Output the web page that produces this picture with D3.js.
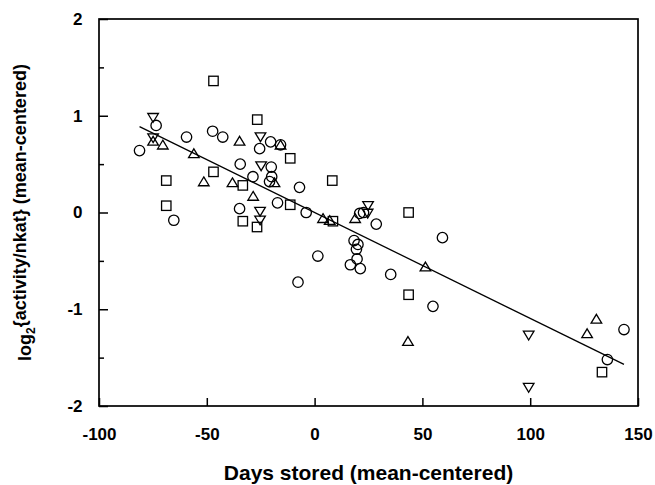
<!DOCTYPE html>
<html>
<head>
<meta charset="utf-8">
<script src="https://cdnjs.cloudflare.com/ajax/libs/d3/7.8.5/d3.min.js"></script>
<style>
    body { margin: 0; background: #fff; }
    text { font-family: 'Liberation Sans', Arial, sans-serif; font-weight: bold; fill: #000; }
</style>
</head>
<body>
<div id="plot"></div>
<script>
let svgWidth = 655;
let svgHeight = 485;

let margin = {
    top: 19,
    right: 17,
    bottom: 79,
    left: 99
};

let chartWidth = svgWidth - margin.left - margin.right;
let chartHeight = svgHeight - margin.top - margin.bottom;

// Points: [days stored, log2 activity], both mean-centered
let circlePoints = [
    [-81.2, 0.64], [-73.5, 0.90], [-65.3, -0.08], [-59.4, 0.78], [-47.3, 0.84],
    [-42.6, 0.78], [-34.5, 0.50], [-28.6, 0.37], [-34.8, 0.04], [-25.5, 0.66],
    [-20.4, 0.73], [-15.8, 0.70], [-20.1, 0.47], [-19.9, 0.37], [-20.9, 0.32],
    [-7.0, 0.26], [-17.2, 0.10], [-3.9, 0.0], [1.5, -0.45], [-7.7, -0.72],
    [20.9, -0.01], [22.7, 0.0], [28.6, -0.12], [18.3, -0.29], [20.1, -0.33],
    [19.4, -0.38], [19.7, -0.48], [16.6, -0.54], [21.2, -0.58], [35.3, -0.64],
    [59.3, -0.26], [54.9, -0.97], [143.5, -1.21], [135.8, -1.52]
];

let squarePoints = [
    [-46.9, 1.36], [-68.8, 0.33], [-68.8, 0.07], [-46.9, 0.42], [-33.3, 0.28],
    [-33.3, -0.09], [-26.6, 0.96], [-26.7, -0.15], [-11.3, 0.56], [-11.3, 0.08],
    [8.2, 0.33], [8.5, -0.09], [43.6, 0.0], [43.6, -0.85], [133.3, -1.65]
];

let upTrianglePoints = [
    [-74.9, 0.74], [-70.4, 0.70], [-56.0, 0.61], [-51.4, 0.32], [-34.8, 0.74],
    [-38.1, 0.31], [-28.5, 0.17], [-15.8, 0.70], [-18.6, 0.31], [3.9, -0.06],
    [7.0, -0.08], [18.8, -0.06], [51.4, -0.56], [43.3, -1.33], [130.7, -1.10],
    [126.4, -1.25]
];

let downTrianglePoints = [
    [-74.9, 0.98], [-74.9, 0.77], [-25.1, 0.78], [-24.8, 0.48], [-25.3, 0.01],
    [-25.3, -0.08], [24.8, 0.07], [24.6, -0.01], [99.3, -1.27], [99.3, -1.81]
];

// Fitted regression line
let fitSlope = -0.01094;
let fitIntercept = 0.0;

let xTicks = [-100, -50, 0, 50, 100, 150];
let yTicks = [-2, -1, 0, 1, 2];
let yMinorTicks = [-1.5, -0.5, 0.5, 1.5];

let xLabel = 'Days stored (mean-centered)';

let $svg = d3.select('#plot')
    .append('svg')
    .attr('width', svgWidth)
    .attr('height', svgHeight);

let chartGroup = $svg.append('g')
    .attr('transform', `translate(${margin.left}, ${margin.top})`);

// Scales
let xLinearScale = d3.scaleLinear()
    .domain([-100, 150])
    .range([0, chartWidth]);

let yLinearScale = d3.scaleLinear()
    .domain([-2, 2])
    .range([chartHeight, 0]);

// Axes, ticks pointing into the plot; plain hyphen for negatives
let bottomAxis = d3.axisBottom(xLinearScale)
    .tickValues(xTicks)
    .tickSize(-8)
    .tickPadding(22)
    .tickFormat(d => String(d));

let leftAxis = d3.axisLeft(yLinearScale)
    .tickValues(yTicks)
    .tickSize(-9)
    .tickPadding(16.5)
    .tickFormat(d => String(d));

let leftMinorAxis = d3.axisLeft(yLinearScale)
    .tickValues(yMinorTicks)
    .tickSize(-5)
    .tickFormat('');

let xAxisGroup = chartGroup.append('g')
    .attr('transform', `translate(0, ${chartHeight})`)
    .call(bottomAxis);

let yAxisGroup = chartGroup.append('g')
    .call(leftAxis);

let yMinorGroup = chartGroup.append('g')
    .call(leftMinorAxis);

[xAxisGroup, yAxisGroup, yMinorGroup].forEach(g => {
    g.select('.domain').remove();
    g.selectAll('line').attr('stroke', '#000').attr('stroke-width', 1.5);
    g.selectAll('text')
        .style('font-family', "'Liberation Sans', Arial, sans-serif")
        .style('font-weight', 'bold')
        .style('font-size', '17px')
        .attr('fill', '#000');
});

// Frame around the plot
chartGroup.append('rect')
    .attr('x', 0)
    .attr('y', 0)
    .attr('width', chartWidth)
    .attr('height', chartHeight)
    .attr('fill', 'none')
    .attr('stroke', '#000')
    .attr('stroke-width', 1.7);

// Regression line over the range of the data
let allPoints = circlePoints.concat(squarePoints, upTrianglePoints, downTrianglePoints);
let fitExtent = d3.extent(allPoints, d => d[0]);

chartGroup.append('path')
    .datum(fitExtent.map(x => [x, fitIntercept + fitSlope * x]))
    .attr('d', d3.line()
        .x(d => xLinearScale(d[0]))
        .y(d => yLinearScale(d[1])))
    .attr('fill', 'none')
    .attr('stroke', '#000')
    .attr('stroke-width', 1.3);

// Marker shapes
let markerStyle = sel => sel
    .attr('fill', 'none')
    .attr('stroke', '#000')
    .attr('stroke-width', 1.3);

chartGroup.selectAll('circle.pt')
    .data(circlePoints)
    .enter()
    .append('circle')
    .attr('class', 'pt')
    .attr('cx', d => xLinearScale(d[0]))
    .attr('cy', d => yLinearScale(d[1]))
    .attr('r', 5.2)
    .call(markerStyle);

chartGroup.selectAll('rect.pt')
    .data(squarePoints)
    .enter()
    .append('rect')
    .attr('class', 'pt')
    .attr('x', d => xLinearScale(d[0]) - 4.7)
    .attr('y', d => yLinearScale(d[1]) - 4.7)
    .attr('width', 9.4)
    .attr('height', 9.4)
    .call(markerStyle);

chartGroup.selectAll('path.up')
    .data(upTrianglePoints)
    .enter()
    .append('path')
    .attr('class', 'up')
    .attr('transform', d => `translate(${xLinearScale(d[0])}, ${yLinearScale(d[1])})`)
    .attr('d', 'M0,-4.6L5.3,4.2L-5.3,4.2Z')
    .call(markerStyle);

chartGroup.selectAll('path.down')
    .data(downTrianglePoints)
    .enter()
    .append('path')
    .attr('class', 'down')
    .attr('transform', d => `translate(${xLinearScale(d[0])}, ${yLinearScale(d[1])})`)
    .attr('d', 'M0,4.6L5.3,-4.2L-5.3,-4.2Z')
    .call(markerStyle);

// Axis titles
$svg.append('text')
    .attr('x', margin.left + chartWidth / 2)
    .attr('y', 480)
    .attr('text-anchor', 'middle')
    .style('font-size', '21px')
    .text(xLabel);

let yTitle = $svg.append('text')
    .attr('transform', `translate(31, ${margin.top + chartHeight / 2}) rotate(-90)`)
    .attr('text-anchor', 'middle')
    .style('font-size', '18px');

yTitle.append('tspan').text('log');
yTitle.append('tspan')
    .attr('dy', '0.35em')
    .style('font-size', '12px')
    .text('2');
yTitle.append('tspan')
    .attr('dy', '-0.5em')
    .text('{activity/nkat} (mean-centered)');
</script>
</body>
</html>
